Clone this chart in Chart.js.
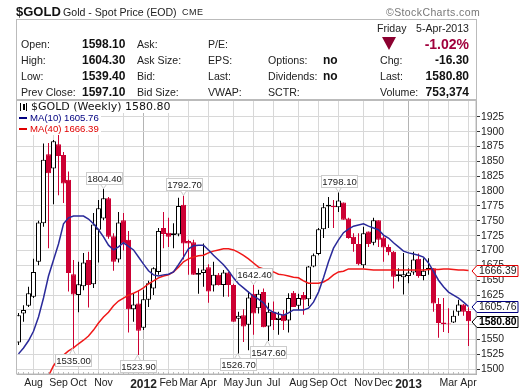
<!DOCTYPE html>
<html>
<head>
<meta charset="utf-8">
<title>$GOLD</title>
<script src="https://cdn.jsdelivr.net/npm/chart.js@4"></script>
<style>
html, body { margin: 0; padding: 0; background: #fff; }
body { width: 520px; height: 391px; position: relative; overflow: hidden; font-family: "Liberation Sans", Arial, sans-serif; font-size: 10.6px; color: #222; }
canvas { position: absolute; left: 0; top: 0; }
.t { position: absolute; white-space: nowrap; line-height: 14px; }
.b { font-weight: bold; color: #111; font-size: 12px; }
.r { text-align: right; }
#box { position: absolute; left: 16px; top: 19px; width: 459px; height: 80px; border: 1px solid #bbb; }
#tri { position: absolute; left: 382px; top: 37px; width: 0; height: 0; border-left: 7px solid transparent; border-right: 7px solid transparent; border-top: 13px solid #8b0030; }
</style>
</head>
<body>
<canvas id="goldChart" width="520" height="391"></canvas>
<div id="box"></div>
<div id="tri"></div>
<div class="t b" style="left:16px;top:3px;font-size:13px;line-height:18px">$GOLD</div>
<div class="t" style="left:63px;top:5px;">Gold - Spot Price (EOD)</div>
<div class="t" style="left:182px;top:5px;font-size:9px;letter-spacing:.5px">CME</div>
<div class="t" style="left:386px;top:5px;font-size:10.5px;letter-spacing:.4px;color:#777">©StockCharts.com</div>

<div class="t" style="left:21px;top:37px">Open:</div>
<div class="t" style="left:21px;top:53px">High:</div>
<div class="t" style="left:21px;top:69px">Low:</div>
<div class="t" style="left:21px;top:85px">Prev Close:</div>
<div class="t b" style="left:82px;top:37px">1598.10</div>
<div class="t b" style="left:82px;top:53px">1604.30</div>
<div class="t b" style="left:82px;top:69px">1539.40</div>
<div class="t b" style="left:82px;top:85px">1597.10</div>
<div class="t" style="left:137px;top:37px">Ask:</div>
<div class="t" style="left:137px;top:53px">Ask Size:</div>
<div class="t" style="left:137px;top:69px">Bid:</div>
<div class="t" style="left:137px;top:85px">Bid Size:</div>
<div class="t" style="left:208px;top:37px">P/E:</div>
<div class="t" style="left:208px;top:53px">EPS:</div>
<div class="t" style="left:208px;top:69px">Last:</div>
<div class="t" style="left:208px;top:85px">VWAP:</div>
<div class="t" style="left:268px;top:53px">Options:</div>
<div class="t" style="left:268px;top:69px">Dividends:</div>
<div class="t" style="left:268px;top:85px">SCTR:</div>
<div class="t b" style="left:323px;top:53px">no</div>
<div class="t b" style="left:323px;top:69px">no</div>
<div class="t" style="left:377px;top:21px">Friday</div>
<div class="t r" style="right:51px;top:21px">5-Apr-2013</div>
<div class="t b r" style="right:51px;top:37px;font-size:14px;color:#a0003c">-1.02%</div>
<div class="t" style="left:380px;top:53px">Chg:</div>
<div class="t" style="left:380px;top:69px">Last:</div>
<div class="t" style="left:380px;top:85px">Volume:</div>
<div class="t b r" style="right:51px;top:53px">-16.30</div>
<div class="t b r" style="right:51px;top:69px">1580.80</div>
<div class="t b r" style="right:51px;top:85px">753,374</div>

<script>
// Weekly candles
const opens = [1545,1594,1607,1622,1681,1746,1862,1838,1879,1861,1819,1660,1625,1640,1684,1643,1735,1754,1788,1724,1685,1751,1718,1601,1611,1570,1617,1636,1664,1738,1730,1726,1727,1777,1716,1714,1659,1662,1672,1641,1659,1642,1663,1642,1585,1591,1575,1627,1603,1630,1572,1597,1583,1592,1582,1629,1607,1625,1618,1673,1694,1736,1774,1775,1773,1781,1754,1723,1711,1675,1732,1713,1751,1722,1706,1698,1657,1655,1657,1663,1686,1657,1668,1670,1610,1579,1577,1579,1597,1609,1598.1];
const highs = [1595,1608,1639,1686,1750,1880,1881,1886,1897,1866,1833,1684,1681,1696,1698,1763,1785,1804.4,1790,1729,1765,1763,1733,1628,1633,1634,1649,1672,1738,1765,1755,1746,1789,1792.7,1718,1718,1670,1712,1677,1681,1662,1667,1664,1644,1597,1601,1631,1642.4,1634,1636,1612,1614,1597,1600,1628,1632,1627,1630,1674,1695,1738,1780,1790,1785,1798.1,1781,1755,1729,1729,1740,1732,1755,1751,1725,1710,1699,1670,1696,1670,1698,1695,1687,1687,1670,1620,1620,1603,1599,1617,1610,1604.3];
const lows = [1541,1580,1605,1620,1675,1740,1704,1778,1793,1780,1631,1535,1596,1633,1604,1637,1680,1751,1720,1666,1680,1700,1562,1580,1523.9,1566,1605,1625,1659,1704,1706,1704,1724,1685,1659,1659,1627,1639,1612,1631,1641,1622,1622,1580,1526.7,1546,1532,1558,1594,1571,1547.6,1566,1558,1566,1562,1605,1600,1592,1606,1672,1692,1721,1738,1738,1765,1752,1720,1698,1675,1670,1706,1709,1706,1681,1692,1636,1648,1626,1645,1659,1654,1650,1659,1597,1553,1563,1561,1578,1590,1590,1539.4];
const closes = [1591,1600,1628,1664,1747,1853,1830,1884,1859,1813,1662,1626,1643,1680,1642,1744,1771,1788,1723,1681,1747,1712,1601,1609,1565,1618,1645,1670,1733,1728,1723,1729,1775,1712,1712,1659,1662,1668,1631,1659,1642,1663,1642,1580,1590,1572,1621,1594,1627,1571,1597,1583,1587,1581,1620,1605,1620,1617,1673,1692,1736,1773,1777,1773,1784,1752,1721,1711,1677,1729,1711,1751,1718,1705,1697,1656,1660,1660,1663,1685,1657,1666,1671,1611,1578,1576,1576,1590,1609,1597,1580.8];

// Moving averages, one reading per candle
const ma10 = [1526,1536,1548,1564,1588,1620,1657,1684,1711,1745,1755,1758,1758,1758,1753,1745,1735,1723,1709,1701,1706,1713,1707,1701,1689,1677,1666,1659,1657,1659,1660,1664,1676,1689,1703,1708,1709,1709,1701,1692,1684,1676,1666,1654,1644,1637,1630,1623,1618,1612,1601,1596,1593,1591,1595,1600,1600,1600,1603,1613,1630,1654,1681,1704,1718,1730,1736,1741,1743,1745,1741,1738,1735,1726,1721,1713,1706,1699,1696,1694,1692,1689,1679,1665,1650,1639,1630,1625,1620,1613,1605.76];
const ma40 = [null,null,null,null,null,null,1489,1506,1517,1524,1531,1536,1543,1549,1556,1566,1578,1588,1596,1607,1615,1620,1625,1628,1632,1637,1644,1649,1654,1657,1659,1664,1672,1681,1686,1689,1691,1692,1696,1699,1701,1703,1703,1701,1697,1692,1686,1679,1672,1669,1665,1664,1660,1659,1657,1655,1654,1649,1645,1645,1645,1647,1652,1659,1664,1665,1669,1669,1669,1669,1668,1667,1667,1667,1667,1667,1667,1667,1667,1667,1667,1667,1668,1668,1668,1669,1669,1668,1667,1667,1666.39];

// Axes
const yTicks = [1500,1525,1550,1575,1600,1625,1650,1675,1700,1725,1750,1775,1800,1825,1850,1875,1900,1925];
const gridWeeks = [3,7,12,16,21,25,30,34,38,43,47,51,56,60,64,69,73,78,82,86,90];
const yearWeeks = [25,78];
const labelWeeks = [3,8,12,17,25,30,34,38,43,47,51,56,60,64,69,73,78,86,90];
const labelNames = ['Aug','Sep','Oct','Nov','2012','Feb','Mar','Apr','May','Jun','Jul','Aug','Sep','Oct','Nov','Dec','2013','Mar','Apr'];

// High/low callouts
const calloutHigh = [17,33,47,64];
const calloutLow = [11,24,44,50];

const RED = '#cc0033';
const weeks = opens.map((v, i) => i);
const isUp = i => closes[i] >= opens[i];

const xMin = -0.3, xMax = 91.5;

function bubble(ctx, x, tipY, text, below) {
    const w = 36, h = 12;
    const cy = below ? tipY + 11 : tipY - 11;
    const bx = Math.round(x - w / 2) + 0.5, by = Math.round(cy - h / 2) + 0.5;
    ctx.fillStyle = '#fff';
    ctx.strokeStyle = '#ccc';
    ctx.lineWidth = 1;
    ctx.beginPath();
    ctx.moveTo(x - 3, below ? by : by + h);
    ctx.lineTo(x, tipY);
    ctx.lineTo(x + 3, below ? by : by + h);
    ctx.closePath();
    ctx.fill();
    ctx.stroke();
    ctx.fillRect(bx, by, w, h);
    ctx.strokeRect(bx, by, w, h);
    ctx.fillStyle = '#222';
    ctx.font = '9.6px "Liberation Sans"';
    ctx.textAlign = 'center';
    ctx.textBaseline = 'middle';
    ctx.fillText(text, bx + w / 2, by + h / 2 + 0.5);
}

function priceTag(ctx, y, text, color, bold) {
    const tipX = 472, x0 = 477, x1 = 518, h = 11;
    const top = Math.round(y - h / 2) + 0.5;
    ctx.fillStyle = '#fff';
    ctx.strokeStyle = color;
    ctx.lineWidth = 1;
    ctx.beginPath();
    ctx.moveTo(tipX, top + h / 2);
    ctx.lineTo(x0, top);
    ctx.lineTo(x1, top);
    ctx.lineTo(x1, top + h);
    ctx.lineTo(x0, top + h);
    ctx.closePath();
    ctx.fill();
    ctx.stroke();
    ctx.fillStyle = bold ? '#000' : '#222';
    ctx.font = (bold ? 'bold ' : '') + '10.4px "Liberation Sans"';
    ctx.textAlign = 'left';
    ctx.textBaseline = 'middle';
    ctx.fillText(text, 479, top + h / 2 + 0.5);
}

const overlays = {
    id: 'overlays',
    afterDraw(chart) {
        const ctx = chart.ctx, a = chart.chartArea;
        const x = chart.scales.x, y = chart.scales.y;
        const last = opens.length - 1;
        ctx.save();

        // plot frame
        ctx.strokeStyle = '#bbb';
        ctx.lineWidth = 1;
        ctx.strokeRect(16.5, a.top - 0.5, a.right - 16.5, a.bottom - a.top + 0.5);

        // weekly ticks on the date axis
        ctx.fillStyle = '#bbb';
        weeks.forEach(i => ctx.fillRect(Math.floor(x.getPixelForValue(i)), a.bottom - 2, 1, 2));

        calloutHigh.forEach(i => bubble(ctx, x.getPixelForValue(i), y.getPixelForValue(highs[i]), highs[i].toFixed(2), false));
        calloutLow.forEach(i => bubble(ctx, x.getPixelForValue(i) - 1, y.getPixelForValue(lows[i]), lows[i].toFixed(2), true));

        priceTag(ctx, y.getPixelForValue(ma40[last]), ma40[last].toFixed(2), '#e00000', false);
        priceTag(ctx, y.getPixelForValue(ma10[last]), ma10[last].toFixed(2), '#000080', false);
        priceTag(ctx, y.getPixelForValue(closes[last]), closes[last].toFixed(2), '#000', true);

        // legend block
        ctx.fillStyle = '#fff';
        ctx.fillRect(17, 101, 160, 12);
        ctx.fillRect(17, 113, 84, 22);
        ctx.fillStyle = '#000';
        ctx.fillRect(20, 103, 1, 8);
        ctx.fillRect(23, 104, 2, 6);
        ctx.fillRect(26, 103, 1, 8);
        ctx.textAlign = 'left';
        ctx.textBaseline = 'middle';
        ctx.font = '11px "DejaVu Sans"';
        ctx.fillStyle = '#111';
        ctx.fillText('$GOLD (Weekly) ' + closes[last].toFixed(2), 31, 107);
        ctx.font = '9.6px "Liberation Sans"';
        ctx.fillStyle = '#000080';
        ctx.fillRect(19, 117, 8, 2);
        ctx.fillText('MA(10) ' + ma10[last].toFixed(2), 30, 118);
        ctx.fillStyle = '#e00000';
        ctx.fillRect(19, 128, 8, 2);
        ctx.fillText('MA(40) ' + ma40[last].toFixed(2), 30, 129);
        ctx.restore();
    }
};

document.addEventListener('DOMContentLoaded', function() {
    new Chart(document.getElementById('goldChart').getContext('2d'), {
        data: {
            datasets: [
                {
                    type: 'line',
                    label: 'MA(10)',
                    data: weeks.map(i => ({ x: i, y: ma10[i] })),
                    borderColor: '#2a2a9a',
                    borderWidth: 1.5,
                    pointRadius: 0,
                    order: 1
                },
                {
                    type: 'line',
                    label: 'MA(40)',
                    data: weeks.map(i => ({ x: i, y: ma40[i] })),
                    borderColor: '#f01818',
                    borderWidth: 1.5,
                    pointRadius: 0,
                    order: 1
                },
                {
                    type: 'bar',
                    label: 'Body',
                    data: weeks.map(i => ({ x: i, y: [opens[i], closes[i]] })),
                    backgroundColor: weeks.map(i => isUp(i) ? '#fff' : RED),
                    borderColor: weeks.map(i => isUp(i) ? '#000' : RED),
                    borderWidth: 1,
                    borderSkipped: false,
                    inflateAmount: 0,
                    barThickness: 5,
                    grouped: false,
                    order: 2
                },
                {
                    type: 'bar',
                    label: 'Range',
                    data: weeks.map(i => ({ x: i, y: [lows[i], highs[i]] })),
                    backgroundColor: weeks.map(i => isUp(i) ? '#000' : RED),
                    borderWidth: 0,
                    inflateAmount: 0,
                    barThickness: 1,
                    grouped: false,
                    order: 3
                }
            ]
        },
        options: {
            responsive: false,
            animation: false,
            events: [],
            layout: { padding: { left: 17, top: 100, right: 0, bottom: 0 } },
            plugins: { legend: { display: false }, tooltip: { enabled: false } },
            scales: {
                x: {
                    type: 'linear',
                    position: 'bottom',
                    offset: false,
                    min: xMin,
                    max: xMax,
                    afterBuildTicks(axis) { axis.ticks = gridWeeks.map(v => ({ value: v })); },
                    afterFit(axis) { axis.height = 0; },
                    ticks: { display: false },
                    border: { display: false },
                    grid: {
                        offset: false,
                        drawTicks: false,
                        color: c => yearWeeks.includes(c.tick && c.tick.value) ? '#b4b4b4' : '#d8d8d8'
                    }
                },
                xLabels: {
                    type: 'linear',
                    position: 'bottom',
                    offset: false,
                    min: xMin,
                    max: xMax,
                    afterBuildTicks(axis) { axis.ticks = labelWeeks.map(v => ({ value: v })); },
                    afterFit(axis) { axis.height = 17; },
                    grid: { display: false, drawTicks: false, tickLength: 0 },
                    border: { color: '#aaa' },
                    ticks: {
                        autoSkip: false,
                        maxRotation: 0,
                        padding: 3,
                        color: '#222',
                        callback: value => labelNames[labelWeeks.indexOf(value)],
                        font: c => (c.tick && yearWeeks.includes(c.tick.value))
                            ? { family: '"Liberation Sans"', size: 12, weight: 'bold' }
                            : { family: '"Liberation Sans"', size: 10.5 }
                    }
                },
                y: {
                    type: 'linear',
                    position: 'right',
                    min: 1492.1,
                    max: 1953.4,
                    afterBuildTicks(axis) { axis.ticks = yTicks.map(v => ({ value: v })); },
                    afterFit(axis) { axis.width = 44; },
                    border: { color: '#aaa' },
                    grid: { color: '#d8d8d8', tickColor: '#333', tickLength: 4 },
                    ticks: {
                        autoSkip: false,
                        padding: 1,
                        color: '#222',
                        font: { family: '"Liberation Sans"', size: 10.4 },
                        callback: value => String(value)
                    }
                }
            }
        },
        plugins: [overlays]
    });
});
</script>
</body>
</html>
